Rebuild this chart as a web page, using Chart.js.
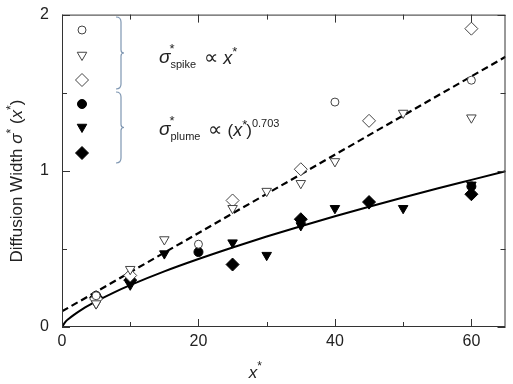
<!DOCTYPE html>
<html>
<head>
<meta charset="utf-8">
<script src="https://cdn.jsdelivr.net/npm/chart.js@4/dist/chart.umd.min.js"></script>
<style>
  html, body { margin: 0; padding: 0; background: #fff; }
  #wrap { width: 513px; height: 384px; }
</style>
</head>
<body>
<div id="wrap"><canvas id="chart"></canvas></div>
<script>
// spike (open markers)
const spikeCircleX = [5, 20, 40, 60];
const spikeCircleY = [0.20, 0.53, 1.44, 1.58];
const spikeTriX = [5, 10, 15, 25, 30, 35, 40, 50, 60];
const spikeTriY = [0.15, 0.37, 0.56, 0.76, 0.87, 0.92, 1.06, 1.37, 1.34];
const spikeDiaX = [5, 10, 25, 35, 45, 60];
const spikeDiaY = [0.18, 0.33, 0.81, 1.01, 1.32, 1.91];

// plume (filled markers)
const plumeCircleX = [5, 10, 20, 60];
const plumeCircleY = [0.20, 0.30, 0.48, 0.90];
const plumeTriX = [5, 10, 15, 25, 30, 35, 40, 45, 50, 60];
const plumeTriY = [0.15, 0.27, 0.47, 0.54, 0.46, 0.65, 0.76, 0.79, 0.76, 0.91];
const plumeDiaX = [5, 10, 25, 35, 45, 60];
const plumeDiaY = [0.19, 0.30, 0.40, 0.69, 0.80, 0.85];

// fit lines
const spikeFitX = [0, 65];
const spikeFitY = [0.10, 1.73];
const plumeFitX = [0, 0.5, 1, 2, 3, 5, 7.5, 10, 15, 20, 25, 30, 35, 40, 45, 50, 55, 60, 65];
const plumeFitY = [0, 0.033, 0.053, 0.086, 0.115, 0.164, 0.219, 0.268, 0.356, 0.435, 0.509,
                   0.579, 0.645, 0.709, 0.770, 0.829, 0.887, 0.942, 0.997];

const xTicks = [0, 10, 20, 30, 40, 50, 60];
const yTicks = [0, 0.5, 1, 1.5, 2];

const pts = (xs, ys) => xs.map((x, i) => ({ x: x, y: ys[i] }));

const openCol = '#444';
const markerSets = [
  { label: 'spike circle', data: pts(spikeCircleX, spikeCircleY), pointStyle: 'circle', pointRadius: 4, pointRotation: 0, backgroundColor: '#fff', borderColor: openCol },
  { label: 'spike triangle', data: pts(spikeTriX, spikeTriY), pointStyle: 'triangle', pointRadius: 5.5, pointRotation: 180, backgroundColor: '#fff', borderColor: openCol },
  { label: 'spike diamond', data: pts(spikeDiaX, spikeDiaY), pointStyle: 'rectRot', pointRadius: 6.5, pointRotation: 0, backgroundColor: '#fff', borderColor: openCol },
  { label: 'plume circle', data: pts(plumeCircleX, plumeCircleY), pointStyle: 'circle', pointRadius: 4.5, pointRotation: 0, backgroundColor: '#000', borderColor: '#000' },
  { label: 'plume triangle', data: pts(plumeTriX, plumeTriY), pointStyle: 'triangle', pointRadius: 5.5, pointRotation: 180, backgroundColor: '#000', borderColor: '#000' },
  { label: 'plume diamond', data: pts(plumeDiaX, plumeDiaY), pointStyle: 'rectRot', pointRadius: 6.5, pointRotation: 0, backgroundColor: '#000', borderColor: '#000' }
];

const legendYs = [30, 55, 80, 104, 127, 153];
const FONT = '"Liberation Sans", Arial, sans-serif';

// draw a run of text pieces: [text, size, italic, dy]
function drawRuns(ctx, x, y, runs) {
  runs.forEach(r => {
    ctx.font = (r[2] ? 'italic ' : '') + r[1] + 'px ' + FONT;
    ctx.fillText(r[0], x, y + (r[3] || 0));
    x += ctx.measureText(r[0]).width;
  });
  return x;
}
function runsWidth(ctx, runs) {
  let w = 0;
  runs.forEach(r => {
    ctx.font = (r[2] ? 'italic ' : '') + r[1] + 'px ' + FONT;
    w += ctx.measureText(r[0]).width;
  });
  return w;
}

function brace(ctx, x, y0, y1) {
  const ym = (y0 + y1) / 2;
  ctx.beginPath();
  ctx.moveTo(x - 5, y0);
  ctx.quadraticCurveTo(x, y0, x, y0 + 5);
  ctx.lineTo(x, ym - 3);
  ctx.quadraticCurveTo(x, ym, x + 3, ym);
  ctx.quadraticCurveTo(x, ym, x, ym + 3);
  ctx.lineTo(x, y1 - 5);
  ctx.quadraticCurveTo(x, y1, x - 5, y1);
  ctx.stroke();
}

const decor = {
  id: 'decor',
  afterDraw(chart) {
    const ctx = chart.ctx;
    const a = chart.chartArea;
    const xs = chart.scales.x, ys = chart.scales.y;
    ctx.save();
    // frame
    ctx.strokeStyle = '#333';
    ctx.lineWidth = 1;
    ctx.strokeRect(a.left + 0.5, a.top + 0.5, a.right - a.left - 1, a.bottom - a.top - 1);
    // inward ticks
    ctx.beginPath();
    xTicks.forEach(v => {
      const px = Math.round(xs.getPixelForValue(v)) + 0.5;
      const len = v % 20 === 0 ? 8 : 5;
      ctx.moveTo(px, a.bottom); ctx.lineTo(px, a.bottom - len);
      ctx.moveTo(px, a.top); ctx.lineTo(px, a.top + len);
    });
    yTicks.forEach(v => {
      const py = Math.round(ys.getPixelForValue(v)) + 0.5;
      const len = v % 1 === 0 ? 8 : 5;
      ctx.moveTo(a.left, py); ctx.lineTo(a.left + len, py);
      ctx.moveTo(a.right, py); ctx.lineTo(a.right - len, py);
    });
    ctx.stroke();

    // legend markers
    markerSets.forEach((m, i) => {
      ctx.fillStyle = m.backgroundColor;
      ctx.strokeStyle = m.borderColor;
      ctx.lineWidth = 1;
      Chart.helpers.drawPoint(ctx, { pointStyle: m.pointStyle, radius: m.pointRadius, rotation: m.pointRotation, borderWidth: 1 }, 82, legendYs[i]);
    });

    // braces
    ctx.strokeStyle = '#7f97b2';
    ctx.lineWidth = 1.2;
    brace(ctx, 121, 17, 89);
    brace(ctx, 121, 92, 163);

    // formulas
    ctx.fillStyle = '#222';
    ctx.textBaseline = 'alphabetic';
    ctx.textAlign = 'left';
    let x = drawRuns(ctx, 159, 63, [['σ', 19, true]]);
    drawRuns(ctx, x - 1, 53, [['*', 13, false]]);
    x = drawRuns(ctx, x, 68, [['spike', 11, false]]);
    x = drawRuns(ctx, x + 2, 64, [[' ∝ ', 20, false], ['x', 18, true]]);
    drawRuns(ctx, x, 56, [['*', 13, false]]);

    x = drawRuns(ctx, 159, 135, [['σ', 19, true]]);
    drawRuns(ctx, x - 1, 125, [['*', 13, false]]);
    x = drawRuns(ctx, x, 140, [['plume', 11, false]]);
    x = drawRuns(ctx, x + 2, 136, [[' ∝ ', 20, false], ['(', 17, false], ['x', 18, true]]);
    x = drawRuns(ctx, x, 129, [['*', 13, false]]);
    x = drawRuns(ctx, x - 1, 136, [[')', 17, false]]);
    drawRuns(ctx, x, 127, [['0.703', 11, false]]);

    // x title
    const xt = [['x', 17, true]];
    const xw = runsWidth(ctx, xt);
    x = drawRuns(ctx, 253 - xw / 2, 378, xt);
    drawRuns(ctx, x, 370, [['*', 12, false]]);

    // y title
    ctx.translate(22, 181);
    ctx.rotate(-Math.PI / 2);
    const yt = [['Diffusion Width ', 17, false], ['σ', 17, true], ['*', 12, false, -7], [' (', 17, false], ['x', 17, true], ['*', 12, false, -7], [')', 17, false]];
    const yw = runsWidth(ctx, yt);
    drawRuns(ctx, -yw / 2, 0, yt);
    ctx.restore();
  }
};

const lineSets = [
  { type: 'line', label: 'spike fit', data: pts(spikeFitX, spikeFitY), borderColor: '#000', borderWidth: 2.2, borderDash: [7, 4], pointRadius: 0, fill: false },
  { type: 'line', label: 'plume fit', data: pts(plumeFitX, plumeFitY), borderColor: '#000', borderWidth: 2, pointRadius: 0, fill: false, cubicInterpolationMode: 'monotone' }
];

new Chart(document.getElementById('chart'), {
  type: 'scatter',
  data: {
    datasets: markerSets.map(m => Object.assign({ type: 'scatter', borderWidth: 1 }, m)).concat(lineSets)
  },
  options: {
    responsive: true,
    maintainAspectRatio: false,
    animation: false,
    layout: { padding: { left: 0, right: 5, top: 12, bottom: 0 } },
    plugins: { legend: { display: false }, tooltip: { enabled: false } },
    scales: {
      x: {
        type: 'linear', min: 0, max: 65,
        grid: { display: false, drawTicks: false },
        border: { display: false },
        afterFit: s => { s.height = 57; },
        ticks: {
          stepSize: 10, autoSkip: false, maxRotation: 0, padding: 5,
          color: '#222', font: { size: 16, family: FONT },
          callback: v => (v % 20 === 0 ? v : '')
        }
      },
      y: {
        type: 'linear', min: 0, max: 2,
        grid: { display: false },
        border: { display: false },
        afterFit: s => { s.width = 62; },
        ticks: {
          stepSize: 0.5, autoSkip: false, padding: 5,
          color: '#222', font: { size: 16, family: FONT },
          callback: v => (v % 1 === 0 ? v : '')
        }
      }
    }
  },
  plugins: [decor]
});
</script>
</body>
</html>
